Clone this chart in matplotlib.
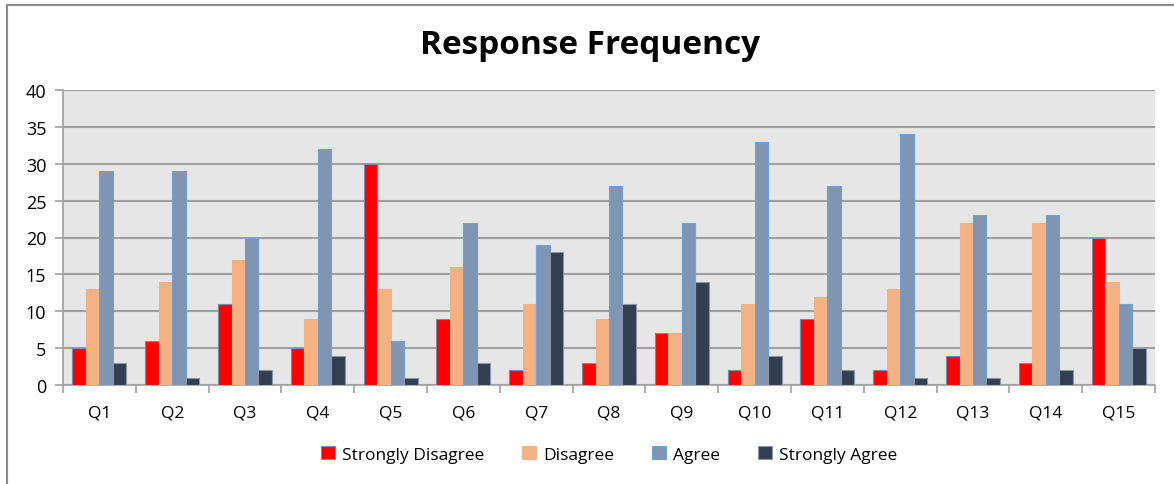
import numpy as np
import matplotlib
matplotlib.use("Agg")
import matplotlib.pyplot as plt
from matplotlib.patches import Rectangle

plt.rcParams['font.family'] = ['Open Sans', 'DejaVu Sans']

questions = ["Q1", "Q2", "Q3", "Q4", "Q5", "Q6", "Q7", "Q8", "Q9", "Q10",
             "Q11", "Q12", "Q13", "Q14", "Q15"]
strongly_disagree = [5, 6, 11, 5, 30, 9, 2, 3, 7, 2, 9, 2, 4, 3, 20]
disagree = [13, 14, 17, 9, 13, 16, 11, 9, 7, 11, 12, 13, 22, 22, 14]
agree = [29, 29, 20, 32, 6, 22, 19, 27, 22, 33, 27, 34, 23, 23, 11]
strongly_agree = [3, 1, 2, 4, 1, 3, 18, 11, 14, 4, 2, 1, 1, 2, 5]

series = [
    ("Strongly Disagree", strongly_disagree, "#FF0000", "#7A8BA8"),
    ("Disagree", disagree, "#F4B183", "#F4B183"),
    ("Agree", agree, "#7F96B2", "#6FA0D8"),
    ("Strongly Agree", strongly_agree, "#333F50", "#8896A8"),
]

fig = plt.figure(figsize=(11.74, 4.85), dpi=100)
ax = fig.add_axes([63/1174, 1-386/485, (1155-63)/1174, (386-91)/485])

# outer frame (only left/top visible in the reference)
fig.patches.append(Rectangle((7/1174, -0.1), 1.2, 1.1 - 6/485,
                             transform=fig.transFigure, fill=False,
                             edgecolor="#8C8C8C", linewidth=1.5))

x = np.arange(len(questions))
w = 0.185
for i, (name, vals, col, ec) in enumerate(series):
    ax.bar(x + (i - 1.5) * w, vals, w, color=col, edgecolor=ec,
           linewidth=0.8, label=name, zorder=3)

ax.set_facecolor("#E6E6E6")
ax.set_xlim(-0.5, len(questions) - 0.5)
ax.set_ylim(0, 40)
ax.set_yticks(range(0, 41, 5))
ax.yaxis.grid(True, color="#A0A0A0", linewidth=1.5, zorder=0)
ax.set_axisbelow(True)

ax.set_xticks(x)
ax.set_xticklabels(questions)
ax.set_xticks(np.arange(-0.5, len(questions)), minor=True)
ax.tick_params(axis="x", which="major", length=0, pad=14, labelsize=12.5)
ax.tick_params(axis="x", which="minor", length=6, color="#A0A0A0", width=1.2)
ax.tick_params(axis="y", length=6, color="#A0A0A0", width=1.2, labelsize=13, pad=6)

for s in ["top", "right"]:
    ax.spines[s].set_visible(False)
for s in ["left", "bottom"]:
    ax.spines[s].set_color("#A0A0A0")
    ax.spines[s].set_linewidth(1.2)

fig.text(0.503, 1-46/485, "Response Frequency", ha="center", va="center",
         fontsize=24, fontweight="bold")

ax.legend(loc="center", bbox_to_anchor=(0.5, -0.235), ncol=4, frameon=False,
          fontsize=12.5, handlelength=0.8, handleheight=0.8, handletextpad=0.4,
          columnspacing=2.2)

fig.savefig("out.png", dpi=100)
